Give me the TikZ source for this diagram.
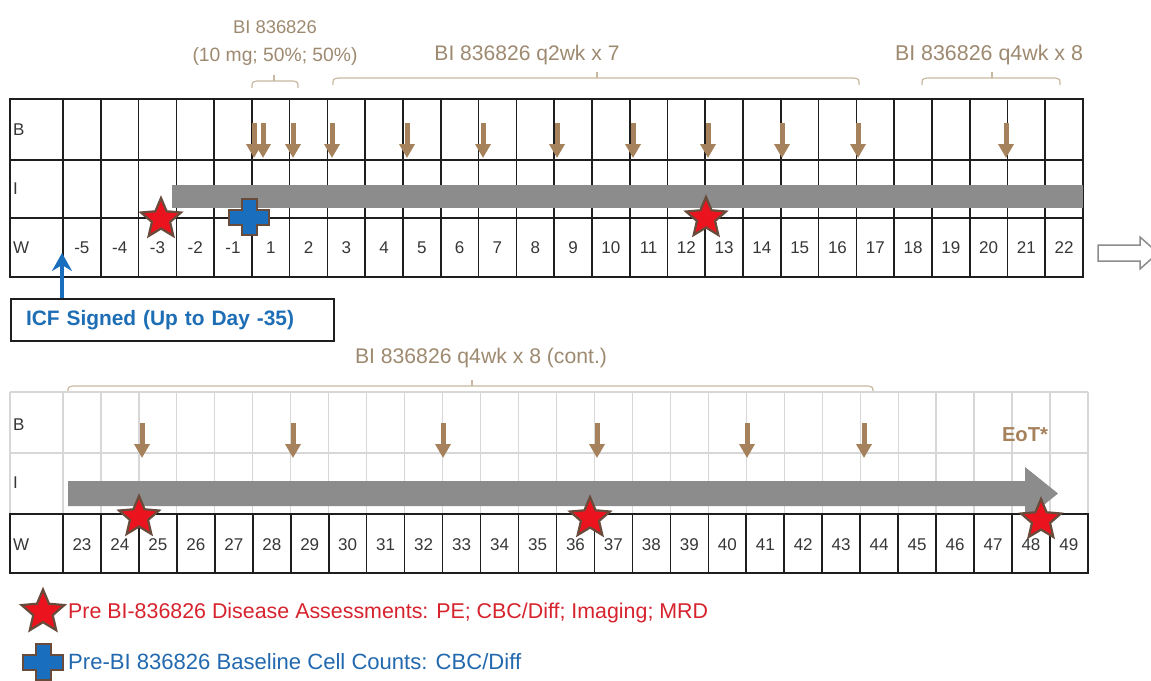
\documentclass[tikz,border=0pt]{standalone}
\usepackage{fontspec}
\usepackage{graphicx}
\setmainfont{Liberation Sans}
\usetikzlibrary{arrows.meta,shapes.geometric}
\definecolor{tanc}{RGB}{166,130,92}
\definecolor{brk}{RGB}{200,185,160}
\definecolor{lbl}{RGB}{158,138,112}
\definecolor{barc}{RGB}{140,140,140}
\definecolor{starred}{RGB}{235,20,30}
\definecolor{starbrd}{RGB}{105,75,60}
\definecolor{crossblue}{RGB}{25,110,190}
\definecolor{icfblue}{RGB}{30,110,182}
\definecolor{legred}{RGB}{215,35,45}
\definecolor{legblue}{RGB}{35,105,175}
\definecolor{gridc}{RGB}{30,30,30}
\definecolor{lightgrid}{RGB}{215,215,215}
\definecolor{numc}{RGB}{55,55,55}
\newcommand\brkt[4]{\draw[brackline] (#1,#3+7) .. controls (#1,#3+1) .. (#1+5,#3) -- (#2-5,#3) .. controls (#2,#3+1) .. (#2,#3+7); \draw[brackline] (#4,#3) -- (#4,#3-6);}
\begin{document}
\begin{tikzpicture}[x=1pt,y=-1pt,
  gridline/.style={draw=gridc,line width=1.6pt},
  lightline/.style={draw=lightgrid,line width=1.2pt},
  tanarr/.style={draw=tanc,line width=5pt,-{Triangle[length=14pt,width=15pt]}},
  brackline/.style={draw=brk,line width=1.2pt},
  brklabel/.style={text=lbl,inner sep=0pt},
  num/.style={text=numc,font=\fontsize{17}{20}\selectfont,inner sep=0pt},
  rowlab/.style={text=numc,font=\fontsize{17}{20}\selectfont,inner sep=0pt,anchor=west},
  redstar/.style={star,star points=5,star point ratio=2.2,minimum size=42pt,inner sep=0pt,fill=starred,draw=starbrd,line width=2.2pt},
  crossst/.style={fill=crossblue,draw=starbrd,line width=2pt,line join=miter},
  crosspic/.pic={\filldraw[crossst] (-7.5,-18) -- (7.5,-18) -- (7.5,-7.5) -- (20,-7.5) -- (20,7.5) -- (7.5,7.5) -- (7.5,18) -- (-7.5,18) -- (-7.5,7.5) -- (-20,7.5) -- (-20,-7.5) -- (-7.5,-7.5) -- cycle;},
]
\useasboundingbox (0,0) rectangle (1151,680);
\fill[white] (0,0) rectangle (1151,680);

% ---------- top grid ----------
\draw[gridline] (10,99) rectangle (1083,277);
\draw[gridline] (10,160) -- (1083,160);
\draw[gridline] (10,218) -- (1083,218);
\foreach \k in {0,...,26} \draw[gridline] ({63+\k*37.78},99) -- ({63+\k*37.78},277);
\node[rowlab] (tB) at (13,130) {B};
\node[rowlab] (tI) at (13,189) {I};
\node[rowlab] (tW) at (13,248) {W};
\foreach \n [count=\i from 0] in {-5,-4,-3,-2,-1,1,2,3,4,5,6,7,8,9,10,11,12,13,14,15,16,17,18,19,20,21,22}
  \node[num] (tn\i) at ({63+(\i+0.5)*37.78},248) {\n};
\fill[barc] (172,185) rectangle (1083,208);
\foreach \x [count=\i] in {254,263,293,332,407,483,557,633,708,782,858,1006} {
  \coordinate (ta\i) at (\x,123); \coordinate (tb\i) at (\x,158);
  \draw[tanarr] (ta\i) -- (tb\i);}
\node[redstar] (s1) at (161,219) {};
\node[redstar] (s2) at (706,218) {};
\pic (cr1) at (249,217) {crosspic};

% brackets and labels (top)
\brkt{252}{298}{81}{274}
\brkt{333}{859}{78}{597}
\brkt{922}{1060}{78}{992}
\node[brklabel] (l1) at (275,27) {\resizebox{84pt}{!}{BI 836826}};
\node[brklabel] (l2) at (275,57) {\resizebox{165pt}{!}{(10 mg; 50\%; 50\%)}};
\node[brklabel] (l3) at (527,55) {\resizebox{185pt}{!}{BI 836826 q2wk x 7}};
\node[brklabel] (l4) at (989,55) {\resizebox{188pt}{!}{BI 836826 q4wk x 8}};

% hollow continuation arrow
\draw[draw=barc,line width=1.5pt,fill=white] (1098,245) -- (1140,245) -- (1140,237) -- (1158,253) -- (1140,269) -- (1140,261) -- (1098,261) -- cycle;

% ICF box and arrow
\node[draw=gridc,line width=2pt,anchor=north west,minimum width=323pt,minimum height=42pt,text width=293pt,inner xsep=15pt,inner ysep=0pt,align=left,text=icfblue] (icf) at (10,298) {\resizebox{268pt}{!}{\bfseries ICF Signed (Up to Day -35)}};
\coordinate (icfend) at (62,253);
\draw[draw=crossblue,line width=3.5pt,-{Stealth[length=18pt,width=20pt,inset=6pt]}] (icf.north west -| icfend) -- (icfend);

% ---------- bottom grid ----------
\brkt{68}{873}{386}{472}
\node[brklabel] (l5) at (481,358) {\resizebox{252pt}{!}{BI 836826 q4wk x 8 (cont.)}};
\draw[lightline] (10,392) -- (1088,392);
\draw[lightline] (10,453) -- (1088,453);
\draw[lightline] (10,392) -- (10,514);
\foreach \k in {0,...,27} \draw[lightline] ({63+\k*37.96},392) -- ({63+\k*37.96},514);
\fill[barc] (68,481) -- (1025,481) -- (1025,467) -- (1058,493.5) -- (1025,520) -- (1025,506) -- (68,506) -- cycle;
\filldraw[fill=white,gridline] (10,514) rectangle (1088,573);
\foreach \k in {0,...,26} \draw[gridline] ({63+\k*37.96},514) -- ({63+\k*37.96},573);
\node[rowlab] (bB) at (13,425) {B};
\node[rowlab] (bI) at (13,483) {I};
\node[rowlab] (bW) at (13,545) {W};
\foreach \n [count=\i from 0] in {23,24,25,26,27,28,29,30,31,32,33,34,35,36,37,38,39,40,41,42,43,44,45,46,47,48,49}
  \node[num] (bn\i) at ({63+(\i+0.5)*37.96},545) {\n};
\foreach \x [count=\i] in {142,293,443,597,747,864} {
  \coordinate (ba\i) at (\x,423); \coordinate (bb\i) at (\x,458);
  \draw[tanarr] (ba\i) -- (bb\i);}
\node[text=tanc,inner sep=0pt] (eot) at (1025,435) {\resizebox{46pt}{!}{\bfseries EoT*}};
\node[redstar] (s3) at (139,517) {};
\node[redstar] (s4) at (590,518) {};
\node[redstar] (s5) at (1041,520) {};

% ---------- legend ----------
\node[redstar,minimum size=45pt] (ls) at (43,612) {};
\node[anchor=west,text=legred,inner sep=0pt] (lt1) at (68,613) {\resizebox{640pt}{!}{Pre BI-836826 Disease Assessments: PE; CBC/Diff; Imaging; MRD}};
\pic (lc) at (43,662) {crosspic};
\node[anchor=west,text=legblue,inner sep=0pt] (lt2) at (68,662) {\resizebox{453pt}{!}{Pre-BI 836826 Baseline Cell Counts: CBC/Diff}};
\end{tikzpicture}
\end{document}
